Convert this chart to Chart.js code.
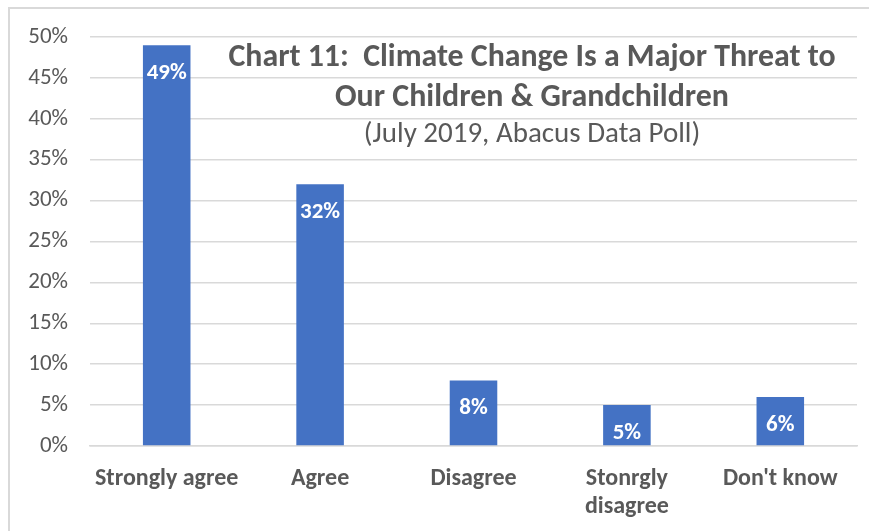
<!DOCTYPE html>
<html>
<head>
<meta charset="utf-8">
<script src="https://cdn.jsdelivr.net/npm/chart.js@4/dist/chart.umd.min.js"></script>
<style>
  body { margin: 0; background: #fff; overflow: hidden; }
  #wrap { position: relative; width: 869px; height: 531px; }
  #frame { position: absolute; left: 8px; top: 7px; width: 900px; height: 600px; border: 2px solid #d9d9d9; box-sizing: border-box; }
  canvas { position: absolute; left: 0; top: 0; }
</style>
</head>
<body>
<div id="wrap">
  <div id="frame"></div>
  <canvas id="chart" width="869" height="531"></canvas>
</div>
<script>
const categories = ['Strongly agree', 'Agree', 'Disagree', ['Stonrgly', 'disagree'], "Don't know"];
const shares = [49, 32, 8, 5, 6];
const titleLines = ['Chart 11:  Climate Change Is a Major Threat to', 'Our Children & Grandchildren'];
const subtitle = '(July 2019, Abacus Data Poll)';

const fontFamily = 'Carlito, Calibri, "Open Sans", sans-serif';
const grey = '#595959';

// white value labels inside the top of each bar
const barLabels = {
    id: 'barLabels',
    afterDatasetsDraw(chart) {
        const ctx = chart.ctx;
        const meta = chart.getDatasetMeta(0);
        ctx.save();
        ctx.fillStyle = '#fff';
        ctx.font = 'bold 23px ' + fontFamily;
        ctx.textAlign = 'center';
        ctx.textBaseline = 'middle';
        meta.data.forEach((bar, i) => {
            ctx.fillText(shares[i] + '%', bar.x, bar.y + 28);
        });
        ctx.restore();
    }
};

// title sits inside the plot area, like the original
const overlayTitle = {
    id: 'overlayTitle',
    afterDraw(chart) {
        const ctx = chart.ctx;
        const cx = 532;
        ctx.save();
        ctx.fillStyle = grey;
        ctx.textAlign = 'center';
        ctx.textBaseline = 'middle';
        ctx.font = 'bold 32px ' + fontFamily;
        ctx.fillText(titleLines[0], cx, 58, 607);
        ctx.fillText(titleLines[1], cx, 98, 394);
        ctx.font = '29px ' + fontFamily;
        ctx.fillText(subtitle, cx, 135, 341);
        ctx.restore();
    }
};

new Chart(document.getElementById('chart'), {
    type: 'bar',
    data: {
        labels: categories,
        datasets: [{
            data: shares,
            backgroundColor: '#4472C4',
            barPercentage: 0.62,
            categoryPercentage: 0.5
        }]
    },
    options: {
        responsive: false,
        animation: false,
        layout: { padding: { left: 8, right: 12, top: 37, bottom: 0 } },
        plugins: {
            legend: { display: false },
            tooltip: { enabled: false }
        },
        scales: {
            y: {
                min: 0,
                max: 50,
                border: { display: false },
                grid: { color: '#d9d9d9', lineWidth: 1.5, drawTicks: false },
                ticks: {
                    stepSize: 5,
                    padding: 22,
                    color: grey,
                    font: { family: fontFamily, size: 23 },
                    callback: v => v + '%'
                },
                afterFit(scale) { scale.width = 82; }
            },
            x: {
                border: { color: '#d9d9d9', width: 1.5 },
                grid: { display: false },
                ticks: {
                    padding: 11,
                    color: grey,
                    maxRotation: 0,
                    autoSkip: false,
                    font: { family: fontFamily, size: 24, weight: 'bold', lineHeight: 1.17 }
                },
                afterFit(scale) { scale.height = 85; }
            }
        }
    },
    plugins: [barLabels, overlayTitle]
});
</script>
</body>
</html>
